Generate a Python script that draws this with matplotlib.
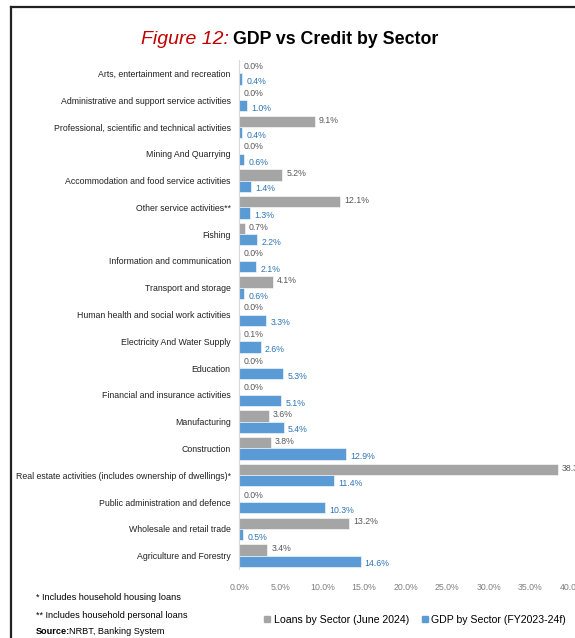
import matplotlib.pyplot as plt
from matplotlib.lines import Line2D
import numpy as np

plt.rcParams['font.family'] = ['Liberation Sans', 'DejaVu Sans']

sectors = [
    "Arts, entertainment and recreation",
    "Administrative and support service activities",
    "Professional, scientific and technical activities",
    "Mining And Quarrying",
    "Accommodation and food service activities",
    "Other service activities**",
    "Fishing",
    "Information and communication",
    "Transport and storage",
    "Human health and social work activities",
    "Electricity And Water Supply",
    "Education",
    "Financial and insurance activities",
    "Manufacturing",
    "Construction",
    "Real estate activities (includes ownership of dwellings)*",
    "Public administration and defence",
    "Wholesale and retail trade",
    "Agriculture and Forestry",
]
loans = [0.0, 0.0, 9.1, 0.0, 5.2, 12.1, 0.7, 0.0, 4.1, 0.0, 0.1, 0.0, 0.0, 3.6, 3.8, 38.3, 0.0, 13.2, 3.4]
gdp = [0.4, 1.0, 0.4, 0.6, 1.4, 1.3, 2.2, 2.1, 0.6, 3.3, 2.6, 5.3, 5.1, 5.4, 12.9, 11.4, 10.3, 0.5, 14.6]
xticks = [0, 5, 10, 15, 20, 25, 30, 35, 40]

gray = '#A5A5A5'
blue = '#5B9BD5'

fig = plt.figure(figsize=(5.75, 6.38), dpi=100)
ax = fig.add_axes([239 / 575, 1 - 569 / 638, 333 / 575, 509 / 638])

n = len(sectors)
y = np.arange(n)[::-1]
h = 0.42
ax.barh(y + h / 2, loans, height=h, color=gray, edgecolor='white', linewidth=0.4)
ax.barh(y - h / 2, gdp, height=h, color=blue, edgecolor='white', linewidth=0.4)

for yi, v in zip(y, loans):
    ax.text(v + 0.5, yi + h / 2 + 0.05, f"{v:.1f}%", va='center', ha='left', fontsize=6.3, color='#595959')
for yi, v in zip(y, gdp):
    ax.text(v + 0.5, yi - h / 2 - 0.1, f"{v:.1f}%", va='center', ha='left', fontsize=6.3, color='#2E75B6')

ax.set_ylim(-0.5, n - 0.5)
ax.set_xlim(0, 40)
ax.set_yticks(y)
ax.set_yticklabels(sectors, fontsize=6.3, color='#222222')
ax.set_xticks(xticks)
ax.set_xticklabels([f"{t:.1f}%" for t in xticks], fontsize=6.3, color='#808080')
ax.tick_params(axis='y', length=0, pad=6)
ax.tick_params(axis='x', length=0, pad=10)
for s in ['top', 'right', 'bottom']:
    ax.spines[s].set_visible(False)
ax.spines['left'].set_color('#D9D9D9')
ax.spines['left'].set_linewidth(0.8)

# title
fig.text(229 / 575, 1 - 40 / 638, "Figure 12:", ha='right', va='center', fontsize=14,
         color='#C00000', style='italic')
fig.text(233 / 575, 1 - 40 / 638, "GDP vs Credit by Sector", ha='left', va='center', fontsize=12.8,
         color='black', weight='bold')

# legend
handles = [Line2D([], [], marker='s', linestyle='', color=gray, markersize=5),
           Line2D([], [], marker='s', linestyle='', color=blue, markersize=5)]
fig.legend(handles, ["Loans by Sector (June 2024)", "GDP by Sector (FY2023-24f)"],
           loc='center', bbox_to_anchor=(414 / 575, 1 - 620 / 638), ncol=2, frameon=False,
           fontsize=7.6, handletextpad=0.1, columnspacing=1.0, handlelength=1.0)

# footnotes
fig.text(36 / 575, 1 - 598 / 638, "* Includes household housing loans", fontsize=6.6, va='center')
fig.text(36 / 575, 1 - 615 / 638, "** Includes household personal loans", fontsize=6.6, va='center')
fig.text(36 / 575, 1 - 631 / 638, "Source:", fontsize=6.6, va='center', weight='bold')
fig.text(69 / 575, 1 - 631 / 638, "NRBT, Banking System", fontsize=6.6, va='center')

# frame
fig.add_artist(Line2D([11 / 575, 11 / 575], [0, 1 - 7 / 638], color='#222222', linewidth=1.6))
fig.add_artist(Line2D([11 / 575, 1], [1 - 7 / 638, 1 - 7 / 638], color='#222222', linewidth=1.6))

fig.savefig('out.png', dpi=100)
